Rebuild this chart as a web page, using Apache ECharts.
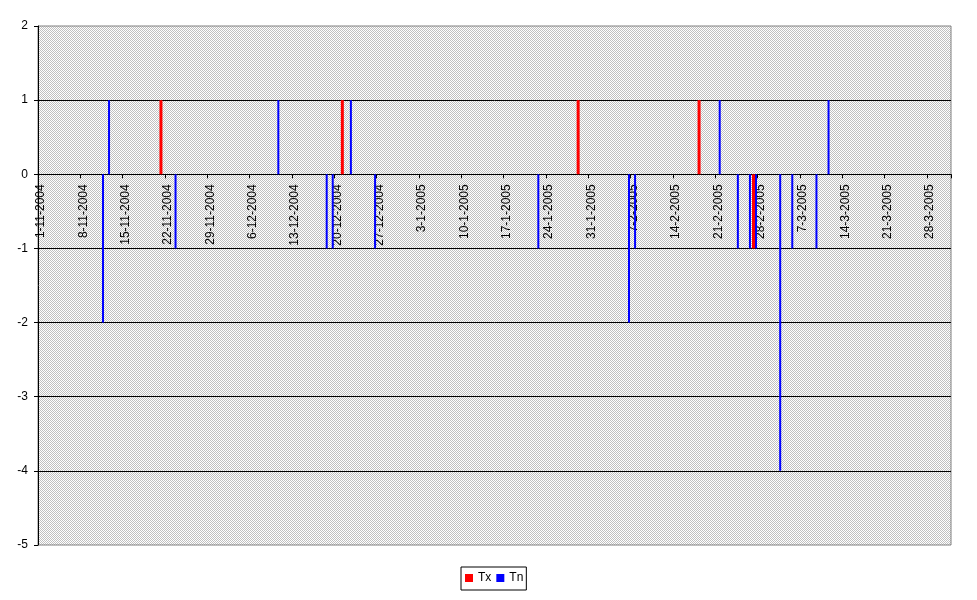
<!DOCTYPE html>
<html>
<head>
<meta charset="utf-8">
<script src="https://cdn.jsdelivr.net/npm/echarts@6/dist/echarts.min.js"></script>
<style>
html,body{margin:0;padding:0;background:#fff}
#chart{width:977px;height:600px}
</style>
</head>
<body>
<div id="chart"></div>
<script>
// daily axis: 1-11-2004 .. 31-3-2005
var firstDay = [2004, 10, 1];
var dayCount = 151;

var txDates  = ['21-11-2004', '21-12-2004', '29-1-2005', '18-2-2005', '27-2-2005'];
var txValues = [1, 1, 1, 1, -1];

var tnDates  = ['11-11-2004', '12-11-2004', '23-11-2004', '10-12-2004', '18-12-2004',
                '19-12-2004', '22-12-2004', '26-12-2004', '22-1-2005', '6-2-2005',
                '7-2-2005', '21-2-2005', '24-2-2005', '26-2-2005', '27-2-2005',
                '3-3-2005', '5-3-2005', '9-3-2005', '11-3-2005'];
var tnValues = [-2, 1, -1, 1, -1,
                -1, 1, -1, -1, -2,
                -1, 1, -1, -1, -1,
                -4, -1, -1, 1];

var yMin = -5, yMax = 2, yStep = 1;

var categories = [];
for (var i = 0; i < dayCount; i++) {
    var d = new Date(firstDay[0], firstDay[1], firstDay[2] + i);
    categories.push(d.getDate() + '-' + (d.getMonth() + 1) + '-' + d.getFullYear());
}

function toSeries(dates, values) {
    return categories.map(function (c) {
        var k = dates.indexOf(c);
        return k < 0 ? '-' : values[k];
    });
}

// excel style 50% grey hatch
var hatch = document.createElement('canvas');
hatch.width = 2; hatch.height = 2;
var hctx = hatch.getContext('2d');
hctx.fillStyle = '#ffffff'; hctx.fillRect(0, 0, 2, 2);
hctx.fillStyle = '#c0c0c0'; hctx.fillRect(0, 0, 1, 1); hctx.fillRect(1, 1, 1, 1);

var gridTop = 26, gridBottom = 55, chartH = 600;
var plotH = chartH - gridTop - gridBottom;
// x axis (line, ticks, labels) sits on the zero line, like excel
var zeroOffset = -plotH * (0 - yMin) / (yMax - yMin);

var font = 'Liberation Sans, Arial, sans-serif';
var myChart = echarts.init(document.getElementById('chart'));
var option = {
    animation: false,
    backgroundColor: '#ffffff',
    textStyle: { fontFamily: font },
    grid: {
        left: 38, right: 26, top: gridTop, bottom: gridBottom,
        containLabel: false,
        outerBoundsMode: 'none',
        show: true,
        backgroundColor: { image: hatch, repeat: 'repeat' },
        borderColor: '#808080',
        borderWidth: 1
    },
    legend: {
        data: ['Tx', 'Tn'],
        left: 461, top: 567,
        icon: 'rect',
        itemWidth: 8, itemHeight: 8, itemGap: 5,
        padding: [5, 3, 6, 4],
        borderColor: '#000', borderWidth: 1,
        backgroundColor: '#fff',
        textStyle: { fontSize: 12, color: '#000', fontFamily: font }
    },
    xAxis: {
        type: 'category',
        data: categories,
        boundaryGap: true,
        position: 'bottom',
        offset: zeroOffset,
        axisLine: { onZero: false, lineStyle: { color: '#000', width: 1 } },
        axisTick: { show: true, interval: 6, length: 4, lineStyle: { color: '#000' } },
        axisLabel: {
            interval: 6, rotate: 90, margin: 10,
            fontSize: 12, color: '#000', fontFamily: font
        },
        splitLine: { show: false }
    },
    yAxis: {
        type: 'value',
        min: yMin, max: yMax, interval: yStep,
        axisLine: { show: true, lineStyle: { color: '#000', width: 1 } },
        axisTick: { show: true, length: 4, lineStyle: { color: '#000' } },
        axisLabel: { margin: 10, fontSize: 12, color: '#000', fontFamily: font },
        splitLine: { show: true, showMinLine: false, showMaxLine: false, lineStyle: { color: '#000', width: 1 } }
    },
    series: [
        {
            name: 'Tx', type: 'bar',
            data: toSeries(txDates, txValues),
            barWidth: 3, barGap: '0%',
            itemStyle: { color: '#ff0000' }
        },
        {
            name: 'Tn', type: 'bar',
            data: toSeries(tnDates, tnValues),
            barWidth: 2,
            itemStyle: { color: '#0000ff' }
        }
    ]
};
myChart.setOption(option);
</script>
</body>
</html>
